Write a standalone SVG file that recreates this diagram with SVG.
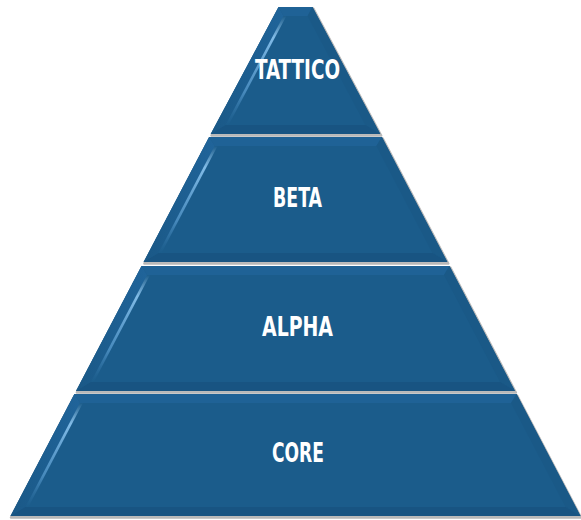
<svg xmlns="http://www.w3.org/2000/svg" width="581" height="520" viewBox="0 0 581 520">
  <defs>
    <linearGradient id="hl" x1="0" y1="0" x2="0" y2="1">
      <stop offset="0" stop-color="#9fd0f4" stop-opacity="0"/>
      <stop offset="0.2" stop-color="#86c0ec" stop-opacity="0.95"/>
      <stop offset="0.7" stop-color="#5a9dd1" stop-opacity="0.7"/>
      <stop offset="1" stop-color="#3b7fb5" stop-opacity="0"/>
    </linearGradient>
    <linearGradient id="lf" x1="0" y1="0" x2="1" y2="0">
      <stop offset="0" stop-color="#1a5886"/>
      <stop offset="1" stop-color="#20649a"/>
    </linearGradient>
  </defs>
  <style>
    .shadow { fill: #c4c4c4; stroke: #b8b8b8; stroke-width: 2.5; stroke-linejoin: round; }
    .body { fill: #1b5c8b; }
    .topf { fill: #1f6296; }
    .leftf { fill: url(#lf); }
    .rightf { fill: #1a5987; }
    .botf { fill: #185482; }
    .hl { fill: url(#hl); }
    .lbl { font-family: "DejaVu Sans Condensed", "DejaVu Sans", sans-serif; font-weight: bold; font-size: 26px; fill: #ffffff; text-anchor: middle; }
  </style>

  <g id="tier-tattico">
    <polygon class="shadow" points="278.5,7 312.5,7 380.3,134 210.7,134" transform="translate(0.8,1.6)"/>
    <polygon class="body" points="278.5,7 312.5,7 380.3,134 210.7,134"/>
    <polygon class="topf" points="278.5,7 312.5,7 307.6,16 283.4,16"/>
    <polygon class="leftf" points="278.5,7 283.4,16 225.6,125 210.7,134"/>
    <polygon class="rightf" points="312.5,7 380.3,134 365.4,125 307.6,16"/>
    <polygon class="botf" points="210.7,134 225.6,125 365.4,125 380.3,134"/>
    <polygon class="hl" points="283.4,16 286.4,16 228.6,125 225.6,125"/>
    <text class="lbl" x="297.5" y="79" textLength="85" lengthAdjust="spacingAndGlyphs">TATTICO</text>
  </g>

  <g id="tier-beta">
    <polygon class="shadow" points="209.1,137 381.9,137 447.4,262 143.6,262" transform="translate(0.8,1.6)"/>
    <polygon class="body" points="209.1,137 381.9,137 447.4,262 143.6,262"/>
    <polygon class="topf" points="209.1,137 381.9,137 376.4,146 214.6,146"/>
    <polygon class="leftf" points="209.1,137 214.6,146 158.5,253 143.6,262"/>
    <polygon class="rightf" points="381.9,137 447.4,262 432.5,253 376.4,146"/>
    <polygon class="botf" points="143.6,262 158.5,253 432.5,253 447.4,262"/>
    <polygon class="hl" points="214.6,146 217.6,146 161.5,253 158.5,253"/>
    <text class="lbl" x="297.5" y="207" textLength="49" lengthAdjust="spacingAndGlyphs">BETA</text>
  </g>

  <g id="tier-alpha">
    <polygon class="shadow" points="141.5,266 449.5,266 515,391 76,391" transform="translate(0.8,1.6)"/>
    <polygon class="body" points="141.5,266 449.5,266 515,391 76,391"/>
    <polygon class="topf" points="141.5,266 449.5,266 444,275 147,275"/>
    <polygon class="leftf" points="141.5,266 147,275 90.9,382 76,391"/>
    <polygon class="rightf" points="449.5,266 515,391 500.1,382 444,275"/>
    <polygon class="botf" points="76,391 90.9,382 500.1,382 515,391"/>
    <polygon class="hl" points="147,275 150,275 93.9,382 90.9,382"/>
    <text class="lbl" x="297.5" y="336" textLength="71" lengthAdjust="spacingAndGlyphs">ALPHA</text>
  </g>

  <g id="tier-core">
    <polygon class="shadow" points="74.4,394 516.6,394 580.5,516 10.5,516" transform="translate(0.5,1.6)"/>
    <polygon class="body" points="74.4,394 516.6,394 580.5,516 10.5,516"/>
    <polygon class="topf" points="74.4,394 516.6,394 511.1,403 79.9,403"/>
    <polygon class="leftf" points="74.4,394 79.9,403 25.4,507 10.5,516"/>
    <polygon class="rightf" points="516.6,394 580.5,516 565.6,507 511.1,403"/>
    <polygon class="botf" points="10.5,516 25.4,507 565.6,507 580.5,516"/>
    <polygon class="hl" points="79.9,403 82.9,403 28.4,507 25.4,507"/>
    <text class="lbl" x="298" y="462" textLength="52" lengthAdjust="spacingAndGlyphs">CORE</text>
  </g>
</svg>
